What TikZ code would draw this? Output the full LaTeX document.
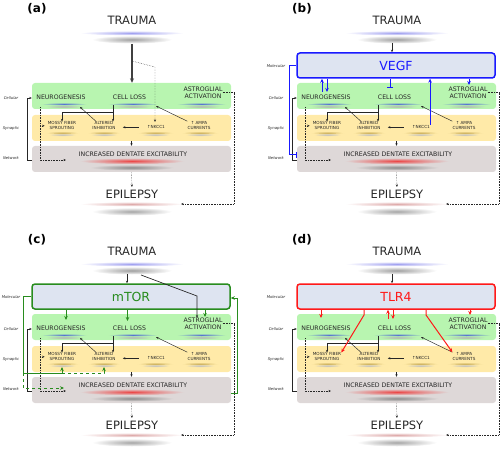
\documentclass[tikz,border=0pt]{standalone}
\usepackage{fontspec}
\setmainfont{DejaVu Sans}
\usetikzlibrary{arrows.meta}

\definecolor{cellgreen}{RGB}{184,245,176}
\definecolor{synyellow}{RGB}{255,234,168}
\definecolor{netgray}{RGB}{222,216,216}
\definecolor{molblue}{RGB}{222,228,241}
\definecolor{txt}{RGB}{38,38,38}
\definecolor{lav}{RGB}{160,160,240}
\definecolor{uline}{RGB}{85,115,210}
\definecolor{olive}{RGB}{195,165,75}
\definecolor{exred}{RGB}{235,70,70}
\definecolor{epipink}{RGB}{222,170,170}
\definecolor{vegfblue}{RGB}{25,25,255}
\definecolor{mtorgreen}{RGB}{40,140,30}
\definecolor{tlrred}{RGB}{255,25,25}

\tikzset{
 tierbox/.style={rounded corners=3pt, inner sep=0pt, minimum width=199pt, minimum height=26pt},
 molbox/.style={rounded corners=3pt, inner sep=0pt, minimum width=198pt, minimum height=25pt,
  fill=molblue, draw=#1, line width=1.5pt, text=#1, font=\fontsize{12.5}{13}\selectfont},
 headline/.style={text=txt, inner sep=0pt, font=\fontsize{11.5}{12}\selectfont},
 cellname/.style={text=txt, inner sep=0pt, align=center, font=\fontsize{6.2}{6.8}\selectfont},
 synname/.style={text=txt, inner sep=0pt, align=center, font=\fontsize{4.2}{5}\selectfont},
 tiername/.style={text=txt, inner sep=0pt, font=\fontsize{3.8}{4}\selectfont\itshape},
 panelname/.style={inner sep=0pt, font=\fontsize{12}{12}\selectfont\bfseries},
 glow/.style 2 args={inner color=#1, outer color=#2},
 lnk/.style={draw=black!85, line width=0.45pt, -{Stealth[length=2.6pt,width=2.2pt]}},
 dotline/.style={draw=black!75, line width=0.4pt, dash pattern=on 0.5pt off 1.1pt},
 mainarrow/.style={draw=black!75, line width=1.1pt, -{Stealth[length=4.5pt,width=4pt]}},
 molarrow/.style={draw=#1, line width=1pt, -{Stealth[length=4pt,width=3.5pt]}},
 molbar/.style={draw=#1, line width=1pt, -{Bar[width=6pt]}},
}

\newcommand{\basepanel}[1]{%
 %panel letter and level names
 \node[panelname] (tag) at (37,8.5) {(#1)};
 \node[tiername] (lcell) at (11,98) {Cellular};
 \node[tiername] (lsyn) at (11,128) {Synaptic};
 \node[tiername] (lnet) at (11,158) {Network};

 %layers
 \node[tierbox, fill=cellgreen] (cell) at (131.5,96) {};
 \node[tierbox, fill=synyellow] (syn) at (131.5,128) {};
 \node[tierbox, fill=netgray] (net) at (131.5,159) {};

 %trauma and epilepsy
 \shade[glow={gray!75}{white}] (132,39.5) ellipse (40 and 4);
 \shade[glow={lav}{white}] (132,33) ellipse (52 and 2.4);
 \node[headline] (trauma) at (132,20) {TRAUMA};
 \shade[glow={gray!70}{white}] (132,211.5) ellipse (40 and 4);
 \shade[glow={epipink}{white}] (132,204) ellipse (52 and 2.4);
 \node[headline] (epi) at (132,194) {EPILEPSY};
 \coordinate (epiline) at (181,204);

 %cellular level
 \shade[glow={gray!60}{cellgreen}] (64,106.5) ellipse (19 and 1.8);
 \shade[glow={uline}{cellgreen}] (64,104) ellipse (23 and 1.5);
 \shade[glow={gray!60}{cellgreen}] (133,106.5) ellipse (20 and 1.8);
 \shade[glow={uline}{cellgreen}] (133,104) ellipse (25 and 1.5);
 \shade[glow={gray!60}{cellgreen}] (201.5,106.5) ellipse (20 and 1.8);
 \shade[glow={uline}{cellgreen}] (201.5,104) ellipse (25 and 1.5);
 \node[cellname] (neuro) at (61,97) {NEUROGENESIS};
 \node[cellname] (loss) at (129.5,97) {CELL LOSS};
 \node[cellname] (astro) at (203,92.7) {ASTROGLIAL\\ACTIVATION};
 \coordinate (lossline) at (133,105);
 \coordinate (neurotip) at (80,107);
 \coordinate (losstip) at (156,106);

 %synaptic level
 \shade[glow={gray!50}{synyellow}] (62.5,134.7) ellipse (14 and 1.6);
 \shade[glow={olive}{synyellow}] (62.5,132.7) ellipse (17.5 and 1.2);
 \shade[glow={gray!50}{synyellow}] (104,134.7) ellipse (14 and 1.6);
 \shade[glow={olive}{synyellow}] (104,132.7) ellipse (17.5 and 1.2);
 \shade[glow={gray!50}{synyellow}] (155.5,134.7) ellipse (15 and 1.6);
 \shade[glow={olive}{synyellow}] (155.5,132.7) ellipse (19 and 1.2);
 \shade[glow={gray!50}{synyellow}] (200,134.7) ellipse (15 and 1.6);
 \shade[glow={olive}{synyellow}] (200,132.7) ellipse (19.5 and 1.2);
 \node[synname] (mossy) at (62,125.8) {MOSSY FIBER\\SPROUTING};
 \node[synname] (alt) at (104,125.8) {ALTERED\\INHIBITION};
 \node[synname] (nkcc) at (156,126.7) {↑NKCC1};
 \node[synname] (ampa) at (199,125.5) {↑ AMPA\\CURRENTS};

 %network level
 \shade[glow={gray!90}{netgray}] (132,167.5) ellipse (42 and 3);
 \shade[glow={exred}{netgray}] (132,161) ellipse (52 and 3.2);
 \node[cellname] (excit) at (133,154) {INCREASED DENTATE EXCITABILITY};

 %links inside the layers
 \coordinate (split) at (113,112);
 \coordinate (nkin) at (138.5,127.3);
 \draw[draw=black!85, line width=0.45pt] (split |- lossline) -- (split);
 \draw[lnk] (split) -| (mossy.north);
 \draw[lnk] (split) -- (split |- alt.north);
 \draw[lnk] ([xshift=4pt]alt.north west) -- (neurotip);
 \draw[lnk, shorten >=7pt] (nkin) -- (nkin -| alt.east);
 \draw[lnk] (ampa.north west) -- (losstip);
 \draw[lnk] (syn.south) -- (net.north);

 %dotted routes
 \coordinate (nd) at (40,107);
 \coordinate (ne) at (66,160);
 \coordinate (rim) at (234,93);
 \draw[dotline, lnk] (nd) |- (ne);
 \draw[dotline, lnk, shorten >=3pt] (nd |- mossy) -- (mossy.west);
 \draw[dotline, lnk, shorten >=2.5pt] (net.south) -- (epi.north);
 \draw[dotline, lnk] (astro.east) -- (astro.east -| rim) |- (epiline);

 %network back to cellular
 \coordinate (bk) at (27,98);
 \draw[lnk] (net.west |- ne) -| (bk) -- (bk -| cell.west);
}

\begin{document}
\begin{tikzpicture}[x=1pt,y=-1pt]
 \useasboundingbox (0,0) rectangle (500,449);

 %panel a: trauma only
 \begin{scope}[name prefix=a-]
  \basepanel{a}
  \coordinate (tdown) at (132,44);
  \coordinate (tk) at (132,61);
  \coordinate (tn) at (155,67);
  \draw[mainarrow] (tdown) -- (tdown |- cell.north);
  \draw[dotline, lnk, shorten >=3pt] (tk) -- (tn) -- (tn |- nkcc.north);
 \end{scope}

 %panel b: VEGF
 \begin{scope}[shift={(265,0)}, name prefix=b-]
  \basepanel{b}
  \node[tiername] (lmol) at (11,66) {Molecular};
  \node[molbox=vegfblue] (mol) at (131,65.5) {VEGF};
  \coordinate (tdown) at (127,43);
  \draw[lnk, line width=0.7pt] (tdown) -- (tdown |- mol.north);
  %two way with neurogenesis
  \coordinate (vn1) at (57,92);
  \coordinate (vn2) at (62,92);
  \draw[molarrow=vegfblue] (vn1) -- (vn1 |- mol.south);
  \draw[molarrow=vegfblue] (vn2 |- mol.south) -- (vn2);
  %blocks cell loss
  \coordinate (vl) at (125,88);
  \draw[molbar=vegfblue] (vl |- mol.south) -- (vl);
  %NKCC1 up to VEGF
  \draw[molarrow=vegfblue] (nkcc.north east) -- (nkcc.north east |- mol.south);
  %astroglia
  \coordinate (va) at (204,85);
  \draw[molarrow=vegfblue] (va |- mol.south) -- (va);
  %onto the network
  \coordinate (vw) at (24,155);
  \draw[molbar=vegfblue] (mol.west) -| (vw) -- (vw -| net.west);
 \end{scope}

 %panel c: mTOR
 \begin{scope}[shift={(0,231)}, name prefix=c-]
  \basepanel{c}
  \node[tiername] (lmol) at (11,66) {Molecular};
  \node[molbox=mtorgreen] (mol) at (131,65.5) {mTOR};
  \coordinate (tdown) at (127,43);
  \draw[lnk, line width=0.7pt] (tdown) -- (tdown |- mol.north);
  %trauma straight to astroglia
  \coordinate (ts) at (141,44);
  \coordinate (tb) at (197,65);
  \draw[lnk, line width=0.7pt] (ts) -- (tb) -- (tb |- astro.north);
  %mTOR to the cells
  \coordinate (mn) at (66,89);
  \coordinate (ml) at (127.5,90);
  \coordinate (ma) at (205,86);
  \draw[molarrow=mtorgreen] (mn |- mol.south) -- (mn);
  \draw[molarrow=mtorgreen] (ml |- mol.south) -- (ml);
  \draw[molarrow=mtorgreen] (ma |- mol.south) -- (ma);
  %mTOR to synapses and network
  \coordinate (mw) at (23,142);
  \coordinate (mup1) at (62,136);
  \coordinate (mup2) at (104,136);
  \coordinate (mz) at (23,157);
  \coordinate (mend) at (64,157);
  \draw[draw=mtorgreen, line width=0.8pt] (mol.west) -| (mw) -- (mw -| mup1);
  \draw[molarrow=mtorgreen, line width=0.8pt] (mw -| mup1) -- (mup1);
  \draw[molarrow=mtorgreen, line width=0.8pt, dashed] (mw -| mup1) -| (mup2);
  \draw[molarrow=mtorgreen, line width=0.8pt, dashed] (mw) -- (mz) -- (mend);
  %network back to mTOR
  \coordinate (mq) at (237,162);
  \coordinate (mr) at (237,67);
  \draw[molarrow=mtorgreen, line width=0.8pt] (mq -| net.east) -- (mq) -- (mr) -- (mr -| mol.east);
 \end{scope}

 %panel d: TLR4
 \begin{scope}[shift={(265,231)}, name prefix=d-]
  \basepanel{d}
  \node[tiername] (lmol) at (11,66) {Molecular};
  \node[molbox=tlrred] (mol) at (131,65.5) {TLR4};
  \coordinate (tdown) at (127,43);
  \draw[lnk, line width=0.7pt] (tdown) -- (tdown |- mol.north);
  %neurogenesis
  \coordinate (rn) at (56,87);
  \draw[molarrow=tlrred] (rn |- mol.south) -- (rn);
  %mossy fiber sprouting
  \coordinate (rk) at (99,84);
  \draw[molarrow=tlrred] (rk |- mol.south) -- (rk) -- (mossy.north east);
  %two way with cell loss
  \coordinate (rc1) at (123,88);
  \coordinate (rc2) at (128,88);
  \draw[molarrow=tlrred] (rc1) -- (rc1 |- mol.south);
  \draw[molarrow=tlrred] (rc2 |- mol.south) -- (rc2);
  %AMPA currents
  \coordinate (rm) at (161,84);
  \draw[molarrow=tlrred] (rm |- mol.south) -- (rm) -- (ampa.north west);
  %astroglia
  \coordinate (ra) at (205,84);
  \draw[molarrow=tlrred] (ra |- mol.south) -- (ra);
 \end{scope}
\end{tikzpicture}
\end{document}
